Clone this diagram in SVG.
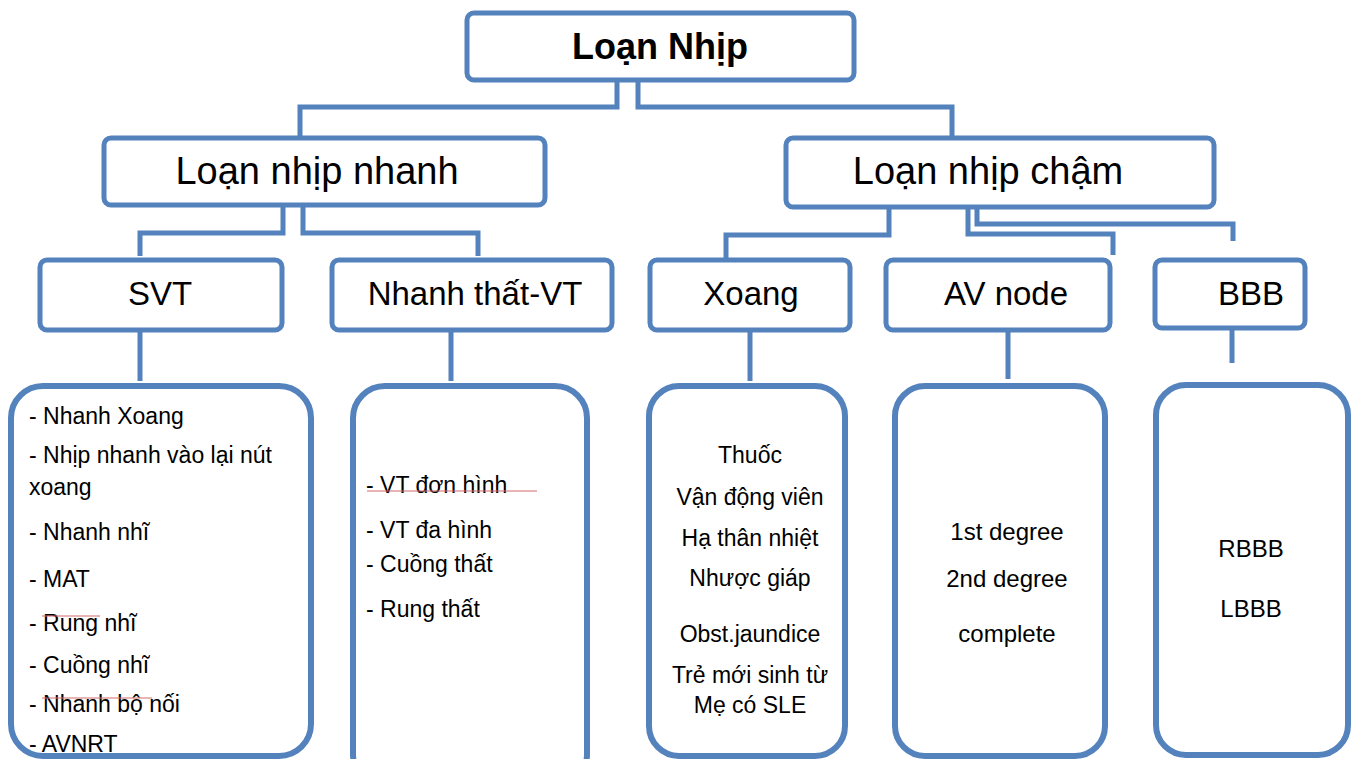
<svg xmlns="http://www.w3.org/2000/svg" width="1353" height="759" viewBox="0 0 1353 759">
<style>
.box{fill:#fff;stroke:#5382bd;stroke-width:5}
.lst{fill:#fff;stroke:#5382bd;stroke-width:6}
.con{fill:none;stroke:#5382bd;stroke-width:5;stroke-linejoin:miter}
text{font-family:"Liberation Sans",Arial,sans-serif;fill:#000}
.t1{font-size:36px;font-weight:bold;text-anchor:middle}
.t2{font-size:38px;text-anchor:middle}
.t3{font-size:33px;text-anchor:middle}
.l{font-size:23px}
.c{font-size:23px;text-anchor:middle}
.c2{font-size:24px;text-anchor:middle}
.sq{stroke:#d46a6a;stroke-width:1.2;fill:none}
</style>
<rect width="1353" height="759" fill="#fff"/>
<g id="connectors">
<path class="con" d="M617 80 V107 H300 V138"/>
<path class="con" d="M638 80 V107 H952 V136"/>
<path class="con" d="M283 205 V233 H140 V256"/>
<path class="con" d="M303 205 V233 H478 V256"/>
<path class="con" d="M889 207 V235 H726 V258"/>
<path class="con" d="M968 207 V234 H1113 V255"/>
<path class="con" d="M977 207 V224 H1233 V241"/>
<path class="con" d="M140 330 V381"/>
<path class="con" d="M451 330 V381"/>
<path class="con" d="M750 330 V381"/>
<path class="con" d="M1008 330 V379"/>
<path class="con" d="M1232 330 V363"/>
</g>
<g id="n-loan-nhip">
<rect class="box" x="467" y="13" width="387" height="67" rx="7"/>
<text class="t1" x="660" y="59">Loạn Nhịp</text>
</g>
<g id="n-nhanh">
<rect class="box" x="104" y="138" width="441" height="67" rx="7"/>
<text class="t2" x="317" y="184">Loạn nhịp nhanh</text>
</g>
<g id="n-cham">
<rect class="box" x="786" y="138" width="428" height="69" rx="7"/>
<text class="t2" x="988" y="184">Loạn nhịp chậm</text>
</g>
<g id="n-svt">
<rect class="box" x="40" y="260" width="242" height="70" rx="7"/>
<text class="t3" x="160" y="305">SVT</text>
</g>
<g id="n-vt">
<rect class="box" x="332" y="260" width="280" height="70" rx="7"/>
<text class="t3" x="475" y="305">Nhanh thất-VT</text>
</g>
<g id="n-xoang">
<rect class="box" x="650" y="260" width="200" height="70" rx="7"/>
<text class="t3" x="751" y="305">Xoang</text>
</g>
<g id="n-av">
<rect class="box" x="886" y="260" width="224" height="70" rx="7"/>
<text class="t3" x="1006" y="305">AV node</text>
</g>
<g id="n-bbb">
<rect class="box" x="1155" y="260" width="150" height="68" rx="7"/>
<text class="t3" x="1251" y="305">BBB</text>
</g>
<g id="n-svt-list">
<rect class="lst" x="11" y="386" width="300" height="370" rx="32"/>
<text class="l" x="29" y="424">- Nhanh Xoang</text>
<text class="l" x="29" y="463">- Nhịp nhanh vào lại nút</text>
<text class="l" x="29" y="495">xoang</text>
<text class="l" x="29" y="540">- Nhanh nhĩ</text>
<text class="l" x="29" y="587">- MAT</text>
<text class="l" x="29" y="631">- Rung nhĩ</text>
<text class="l" x="29" y="673">- Cuồng nhĩ</text>
<text class="l" x="29" y="712">- Nhanh bộ nối</text>
<text class="l" x="29" y="752">- AVNRT</text>
<path class="sq" d="M42 616 H100"/>
<path class="sq" d="M42 698 H152"/>
</g>
<g id="n-vt-list">
<rect class="lst" x="353" y="386" width="234" height="400" rx="32"/>
<text class="l" x="366" y="493">- VT đơn hình</text>
<text class="l" x="366" y="538">- VT đa hình</text>
<text class="l" x="366" y="572">- Cuồng thất</text>
<text class="l" x="366" y="617">- Rung thất</text>
<path class="sq" d="M367 491 H537"/>
</g>
<g id="n-xoang-list">
<rect class="lst" x="649" y="386" width="196" height="370" rx="30"/>
<text class="c" x="750" y="463">Thuốc</text>
<text class="c" x="750" y="505">Vận động viên</text>
<text class="c" x="750" y="546">Hạ thân nhiệt</text>
<text class="c" x="750" y="586">Nhược giáp</text>
<text class="c" x="750" y="642">Obst.jaundice</text>
<text class="c" x="750" y="683">Trẻ mới sinh từ</text>
<text class="c" x="750" y="713">Mẹ có SLE</text>
</g>
<g id="n-av-list">
<rect class="lst" x="895" y="386" width="210" height="370" rx="30"/>
<text class="c2" x="1007" y="540">1st degree</text>
<text class="c2" x="1007" y="587">2nd degree</text>
<text class="c2" x="1007" y="642">complete</text>
</g>
<g id="n-bbb-list">
<rect class="lst" x="1156" y="385" width="192" height="370" rx="30"/>
<text class="c2" x="1251" y="557">RBBB</text>
<text class="c2" x="1251" y="617">LBBB</text>
</g>
</svg>
